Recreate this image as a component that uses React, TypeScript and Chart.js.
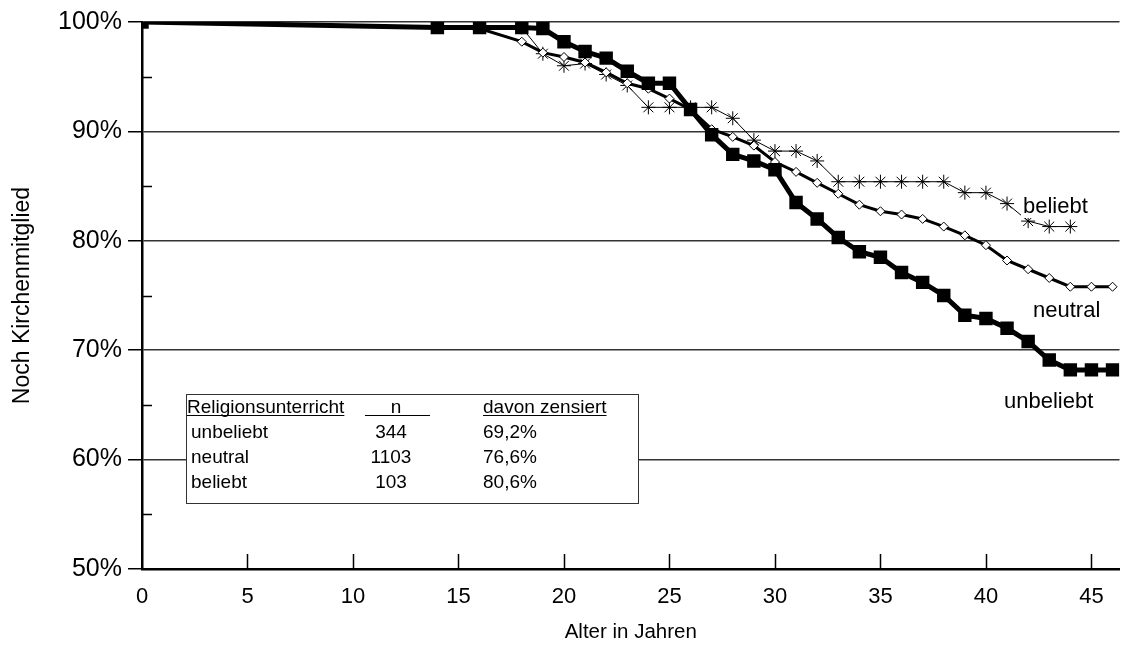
import React, { useEffect, useRef } from 'react';
import { Chart, registerables } from 'chart.js';

Chart.register(...registerables);

const FONT = "'Liberation Sans', Arial, Helvetica, sans-serif";

// ---- data (ages in years, share still church member in %) ----
const agesUnbeliebt = [0, 14, 16, 18, 19, 20, 21, 22, 23, 24, 25, 26, 27, 28, 29, 30, 31, 32, 33, 34, 35, 36, 37, 38, 39, 40, 41, 42, 43, 44, 45, 46];
const valuesUnbeliebt = [100, 99.5, 99.5, 99.5, 99.4, 98.2, 97.3, 96.7, 95.5, 94.4, 94.4, 92.0, 89.7, 87.9, 87.3, 86.5, 83.5, 82.0, 80.3, 79.0, 78.5, 77.1, 76.2, 75.0, 73.2, 72.9, 72.0, 70.8, 69.1, 68.2, 68.2, 68.2];

const agesNeutral = [0, 16, 18, 19, 20, 21, 22, 23, 24, 25, 26, 27, 28, 29, 30, 31, 32, 33, 34, 35, 36, 37, 38, 39, 40, 41, 42, 43, 44, 45, 46];
const valuesNeutral = [100, 99.4, 98.2, 97.2, 96.8, 96.3, 95.4, 94.4, 93.9, 93.0, 92.0, 90.2, 89.5, 88.7, 87.2, 86.3, 85.3, 84.3, 83.3, 82.7, 82.4, 82.0, 81.3, 80.5, 79.6, 78.2, 77.4, 76.6, 75.8, 75.8, 75.8];

const agesBeliebt = [0, 18, 19, 20, 21, 22, 23, 24, 25, 26, 27, 28, 29, 30, 31, 32, 33, 34, 35, 36, 37, 38, 39, 40, 41, 42, 43, 44];
const valuesBeliebt = [100, 99.5, 97.1, 96.0, 96.2, 95.2, 94.2, 92.2, 92.2, 92.2, 92.2, 91.2, 89.2, 88.2, 88.2, 87.3, 85.4, 85.4, 85.4, 85.4, 85.4, 85.4, 84.4, 84.4, 83.4, 81.8, 81.3, 81.3];

const xTickValues = [0, 5, 10, 15, 20, 25, 30, 35, 40, 45];
const yTickValues = [50, 55, 60, 65, 70, 75, 80, 85, 90, 95, 100];

const seriesNames = ['unbeliebt', 'neutral', 'beliebt'];

const tableHeader = ['Religionsunterricht', 'n', 'davon zensiert'];
const tableGroups = ['unbeliebt', 'neutral', 'beliebt'];
const tableN = ['344', '1103', '103'];
const tableCensored = ['69,2%', '76,6%', '80,6%'];

const toPoints = (xs: number[], ys: number[]) => xs.map((x, i) => ({ x, y: ys[i] }));

const decorPlugin = {
  id: 'decor',
  afterDatasetsDraw(chart: any) {
    const { ctx, chartArea } = chart;
    const xs = chart.scales.x;
    const ys = chart.scales.y;
    ctx.save();
    ctx.strokeStyle = '#000';
    ctx.lineWidth = 1.5;
    ctx.beginPath();
    for (const v of yTickValues) {
      if (v % 10 === 0) continue;
      const py = Math.round(ys.getPixelForValue(v)) + 0.5;
      ctx.moveTo(chartArea.left, py);
      ctx.lineTo(chartArea.left + 10, py);
    }
    for (const v of xTickValues) {
      if (v === 0) continue;
      const px = Math.round(xs.getPixelForValue(v)) + 0.5;
      ctx.moveTo(px, chartArea.bottom);
      ctx.lineTo(px, chartArea.bottom - 15);
    }
    ctx.stroke();

    // series labels
    ctx.font = `22px ${FONT}`;
    ctx.textBaseline = 'alphabetic';
    ctx.textAlign = 'left';
    const w0 = ctx.measureText(seriesNames[2]).width;
    ctx.fillStyle = '#fff';
    ctx.fillRect(1021, 195, w0 + 4, 23);
    ctx.fillStyle = '#000';
    ctx.fillText(seriesNames[2], 1023, 213);
    ctx.fillText(seriesNames[1], 1033, 317);
    ctx.fillText(seriesNames[0], 1004, 408);

    // info table
    const bx = 186, by = 394, bw = 452, bh = 109;
    ctx.fillStyle = '#fff';
    ctx.fillRect(bx, by, bw, bh);
    ctx.strokeStyle = '#333';
    ctx.lineWidth = 1;
    ctx.strokeRect(bx + 0.5, by + 0.5, bw, bh);

    ctx.fillStyle = '#000';
    ctx.font = `19px ${FONT}`;
    const hb = 413;
    ctx.textAlign = 'left';
    ctx.fillText(tableHeader[0], 187, hb);
    const hw0 = ctx.measureText(tableHeader[0]).width;
    ctx.textAlign = 'center';
    ctx.fillText(tableHeader[1], 396, hb);
    ctx.textAlign = 'left';
    ctx.fillText(tableHeader[2], 483, hb);
    const hw2 = ctx.measureText(tableHeader[2]).width;
    ctx.beginPath();
    ctx.strokeStyle = '#000';
    ctx.lineWidth = 1;
    ctx.moveTo(187, hb + 2.5); ctx.lineTo(187 + hw0, hb + 2.5);
    ctx.moveTo(365, hb + 2.5); ctx.lineTo(430, hb + 2.5);
    ctx.moveTo(483, hb + 2.5); ctx.lineTo(483 + hw2, hb + 2.5);
    ctx.stroke();

    const rowBase = [438, 463, 488];
    tableGroups.forEach((g, i) => {
      ctx.textAlign = 'left';
      ctx.fillText(g, 191, rowBase[i]);
      ctx.textAlign = 'center';
      ctx.fillText(tableN[i], 391, rowBase[i]);
      ctx.textAlign = 'left';
      ctx.fillText(tableCensored[i], 483, rowBase[i]);
    });
    ctx.restore();
  },
};

export default function App() {
  const ref = useRef<HTMLCanvasElement | null>(null);

  useEffect(() => {
    if (!ref.current) return;
    const chart = new Chart(ref.current, {
      type: 'line',
      data: {
        datasets: [
          {
            label: seriesNames[0],
            data: toPoints(agesUnbeliebt, valuesUnbeliebt),
            borderColor: '#000',
            borderWidth: 5,
            pointStyle: 'rect',
            pointRadius: 9.5,
            pointBackgroundColor: '#000',
            pointBorderColor: '#000',
            pointBorderWidth: 0,
            tension: 0,
          },
          {
            label: seriesNames[1],
            data: toPoints(agesNeutral, valuesNeutral),
            borderColor: '#000',
            borderWidth: 3,
            pointStyle: 'rectRot',
            pointRadius: 4.5,
            pointBackgroundColor: '#fff',
            pointBorderColor: '#000',
            pointBorderWidth: 1,
            tension: 0,
          },
          {
            label: seriesNames[2],
            data: toPoints(agesBeliebt, valuesBeliebt),
            borderColor: '#000',
            borderWidth: 1,
            pointStyle: 'star',
            pointRadius: 7,
            pointBackgroundColor: '#000',
            pointBorderColor: '#000',
            pointBorderWidth: 1,
            tension: 0,
          },
        ],
      } as any,
      options: {
        responsive: false,
        animation: false,
        devicePixelRatio: 1,
        layout: { padding: { top: 22, right: 8, left: 0, bottom: 0 } },
        plugins: { legend: { display: false }, tooltip: { enabled: false } },
        scales: {
          x: {
            type: 'linear',
            min: 0,
            max: 46.33,
            afterBuildTicks: (s: any) => {
              s.ticks = xTickValues.map((v) => ({ value: v }));
            },
            afterFit: (s: any) => {
              s.height = 90;
            },
            ticks: {
              autoSkip: false,
              maxRotation: 0,
              font: { family: FONT, size: 22 },
              color: '#000',
              padding: 15,
              callback: (v: any) => String(v),
            },
            grid: { display: true, drawOnChartArea: false, drawTicks: false },
            border: { display: true, color: '#000', width: 2.5 },
            title: {
              display: true,
              text: 'Alter in Jahren',
              font: { family: FONT, size: 20.5 },
              color: '#000',
              padding: { top: 0, bottom: 14 },
            },
          },
          y: {
            type: 'linear',
            min: 50,
            max: 100,
            afterBuildTicks: (s: any) => {
              s.ticks = yTickValues.map((v) => ({ value: v }));
            },
            afterFit: (s: any) => {
              s.width = 142;
            },
            ticks: {
              autoSkip: false,
              font: { family: FONT, size: 25 },
              color: '#000',
              padding: 6,
              callback: (v: any) => (Number(v) % 10 === 0 ? `${v}%` : ''),
            },
            grid: {
              display: true,
              drawTicks: true,
              tickLength: 14,
              lineWidth: 1.5,
              color: (c: any) => (c.tick && c.tick.value % 10 === 0 ? '#333' : 'rgba(0,0,0,0)'),
              tickColor: (c: any) => (c.tick && c.tick.value % 10 === 0 ? '#000' : 'rgba(0,0,0,0)'),
            },
            border: { display: true, color: '#000', width: 2.5 },
            title: {
              display: true,
              text: 'Noch Kirchenmitglied',
              font: { family: FONT, size: 23 },
              color: '#000',
              padding: { top: 9, bottom: 0 },
            },
          },
        },
      } as any,
      plugins: [decorPlugin],
    });
    return () => chart.destroy();
  }, []);

  return (
    <div style={{ position: 'absolute', left: 0, top: 0, width: 1129, height: 659, background: '#fff' }}>
      <canvas ref={ref} width={1129} height={659} style={{ width: 1129, height: 659, display: 'block' }} />
    </div>
  );
}
